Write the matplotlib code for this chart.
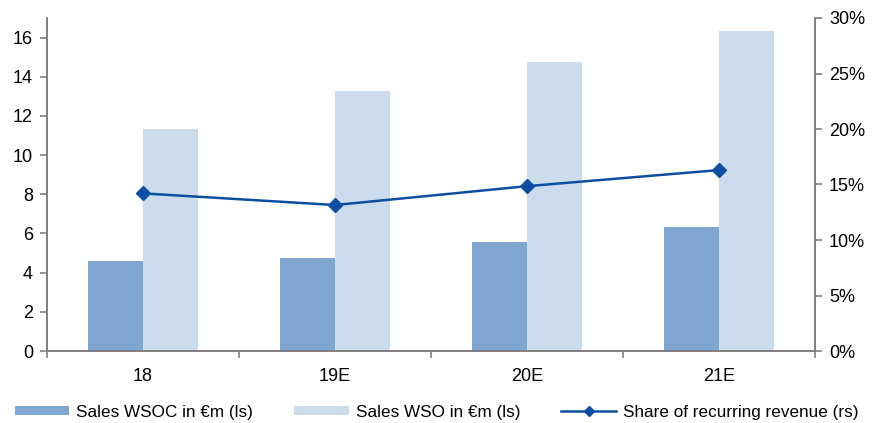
import matplotlib
matplotlib.use("Agg")
import matplotlib.pyplot as plt
import numpy as np
from matplotlib.ticker import FuncFormatter

plt.rcParams['font.family'] = ['Liberation Sans', 'DejaVu Sans']

categories = ["18", "19E", "20E", "21E"]
sales_wsoc = [4.6, 4.75, 5.55, 6.35]
sales_wso = [11.33, 13.27, 14.75, 16.33]
share_recurring = [0.142, 0.1315, 0.1485, 0.163]

c_wsoc = "#7FA6D0"
c_wso = "#CDDCEC"
c_line = "#0B4EA2"
spine_c = "#7F7F7F"

fig = plt.figure(figsize=(8.73, 4.23), dpi=100)
ax = fig.add_axes([47/873, 72/423, (815-47)/873, (351-18)/423])
ax2 = ax.twinx()

x = np.arange(len(categories))
w = 0.286
ax.bar(x - w/2, sales_wsoc, width=w, color=c_wsoc, label="Sales WSOC in €m (ls)", zorder=2)
ax.bar(x + w/2, sales_wso, width=w, color=c_wso, label="Sales WSO in €m (ls)", zorder=2)
ax2.plot(x, share_recurring, color=c_line, lw=1.8, marker="D", ms=7,
         label="Share of recurring revenue (rs)", zorder=3)

ax.set_xlim(-0.5, len(categories) - 0.5)
ax.set_ylim(0, 17)
ax.set_yticks(np.arange(0, 17, 2))
ax2.set_ylim(0, 0.30)
ax2.set_yticks(np.arange(0, 0.31, 0.05))
ax2.yaxis.set_major_formatter(FuncFormatter(lambda v, p: f"{v*100:.0f}%"))

ax.set_xticks(np.arange(-0.5, len(categories), 1.0))
ax.set_xticklabels([])
ax.set_xticks(x, minor=True)
ax.set_xticklabels(categories, minor=True)
ax.tick_params(axis='x', which='minor', length=0, pad=12, labelsize=13)
ax.tick_params(axis='x', which='major', length=5, color=spine_c, width=1.2)
ax.tick_params(axis='y', length=5, color=spine_c, width=1.2, labelsize=13, pad=5)
ax2.tick_params(axis='y', length=5, color=spine_c, width=1.2, labelsize=13, pad=5)

for a in (ax, ax2):
    a.spines['top'].set_visible(False)
    for s in ('left', 'right', 'bottom'):
        a.spines[s].set_color(spine_c)
        a.spines[s].set_linewidth(1.2)

h1, l1 = ax.get_legend_handles_labels()
h2, l2 = ax2.get_legend_handles_labels()
fig.legend(h1 + h2, l1 + l2, loc='center', bbox_to_anchor=(0.5, 11/423), ncol=3,
           frameon=False, fontsize=12.3, handlelength=3.2, handleheight=0.45,
           handletextpad=0.4, columnspacing=2.4, borderaxespad=0, borderpad=0,
           markerscale=0.7)

fig.savefig("out.png", dpi=100)
